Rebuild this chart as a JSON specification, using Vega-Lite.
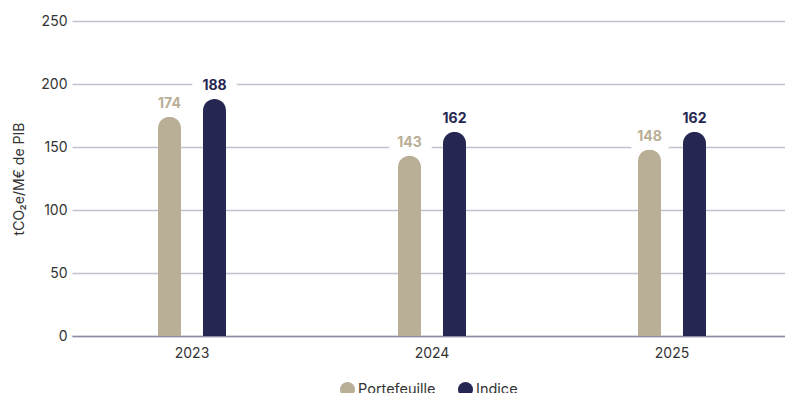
{
  "$schema": "https://vega.github.io/schema/vega-lite/v6.json",
  "width": 720,
  "height": 315,
  "autosize": "none",
  "padding": {"left": 72, "top": 21, "right": 0, "bottom": 57},
  "background": "white",
  "config": {"font": "Inter", "view": {"stroke": null}},
  "data": {
    "values": [
      {"annee": "2023", "serie": "Portefeuille", "valeur": 174},
      {"annee": "2023", "serie": "Indice", "valeur": 188},
      {"annee": "2024", "serie": "Portefeuille", "valeur": 143},
      {"annee": "2024", "serie": "Indice", "valeur": 162},
      {"annee": "2025", "serie": "Portefeuille", "valeur": 148},
      {"annee": "2025", "serie": "Indice", "valeur": 162}
    ]
  },
  "encoding": {
    "x": {
      "field": "annee",
      "type": "nominal",
      "scale": {"paddingInner": 0.625, "paddingOuter": 0.3125},
      "axis": {
        "title": null,
        "labelAngle": 0,
        "ticks": false,
        "labelPadding": 10,
        "labelFontSize": 14,
        "labelColor": "#333333",
        "domainColor": "#8e8aa5",
        "domainWidth": 1.5,
        "grid": false
      }
    },
    "xOffset": {
      "field": "serie",
      "sort": ["Portefeuille", "Indice"],
      "scale": {"paddingInner": 0.489, "paddingOuter": 0.2445}
    },
    "y": {
      "field": "valeur",
      "type": "quantitative",
      "scale": {"domain": [0, 250]},
      "axis": {
        "title": "tCO₂e/M€ de PIB",
        "titleFontWeight": "normal",
        "titleFontSize": 14,
        "titleColor": "#333333",
        "titlePadding": 14,
        "values": [0, 50, 100, 150, 200, 250],
        "domain": false,
        "ticks": false,
        "labelPadding": 5,
        "labelFontSize": 14,
        "labelColor": "#333333",
        "gridColor": "#c3c0d2",
        "gridWidth": 1.4
      }
    }
  },
  "layer": [
    {
      "mark": {"type": "text", "dy": -13, "baseline": "middle", "fontWeight": "bold", "fontSize": 14, "fill": "white", "stroke": "white", "strokeWidth": 22, "strokeJoin": "round"},
      "encoding": {"text": {"field": "valeur", "type": "quantitative"}}
    },
    {
      "mark": {"type": "bar", "cornerRadiusTopLeft": 11.5, "cornerRadiusTopRight": 11.5},
      "encoding": {
        "color": {
          "field": "serie",
          "type": "nominal",
          "sort": ["Portefeuille", "Indice"],
          "scale": {"domain": ["Portefeuille", "Indice"], "range": ["#b9ae96", "#252651"]},
          "legend": {
            "title": null,
            "orient": "none",
            "legendX": 268,
            "legendY": 361,
            "direction": "horizontal",
            "symbolType": "circle",
            "symbolSize": 225,
            "symbolStrokeWidth": 0,
            "labelFontSize": 14.5,
            "labelColor": "#333333",
            "labelOffset": 3,
            "columnPadding": 22
          }
        }
      }
    },
    {
      "mark": {"type": "text", "dy": -13, "baseline": "middle", "fontWeight": "bold", "fontSize": 14},
      "encoding": {
        "text": {"field": "valeur", "type": "quantitative"},
        "color": {"field": "serie", "type": "nominal", "legend": null}
      }
    }
  ]
}
